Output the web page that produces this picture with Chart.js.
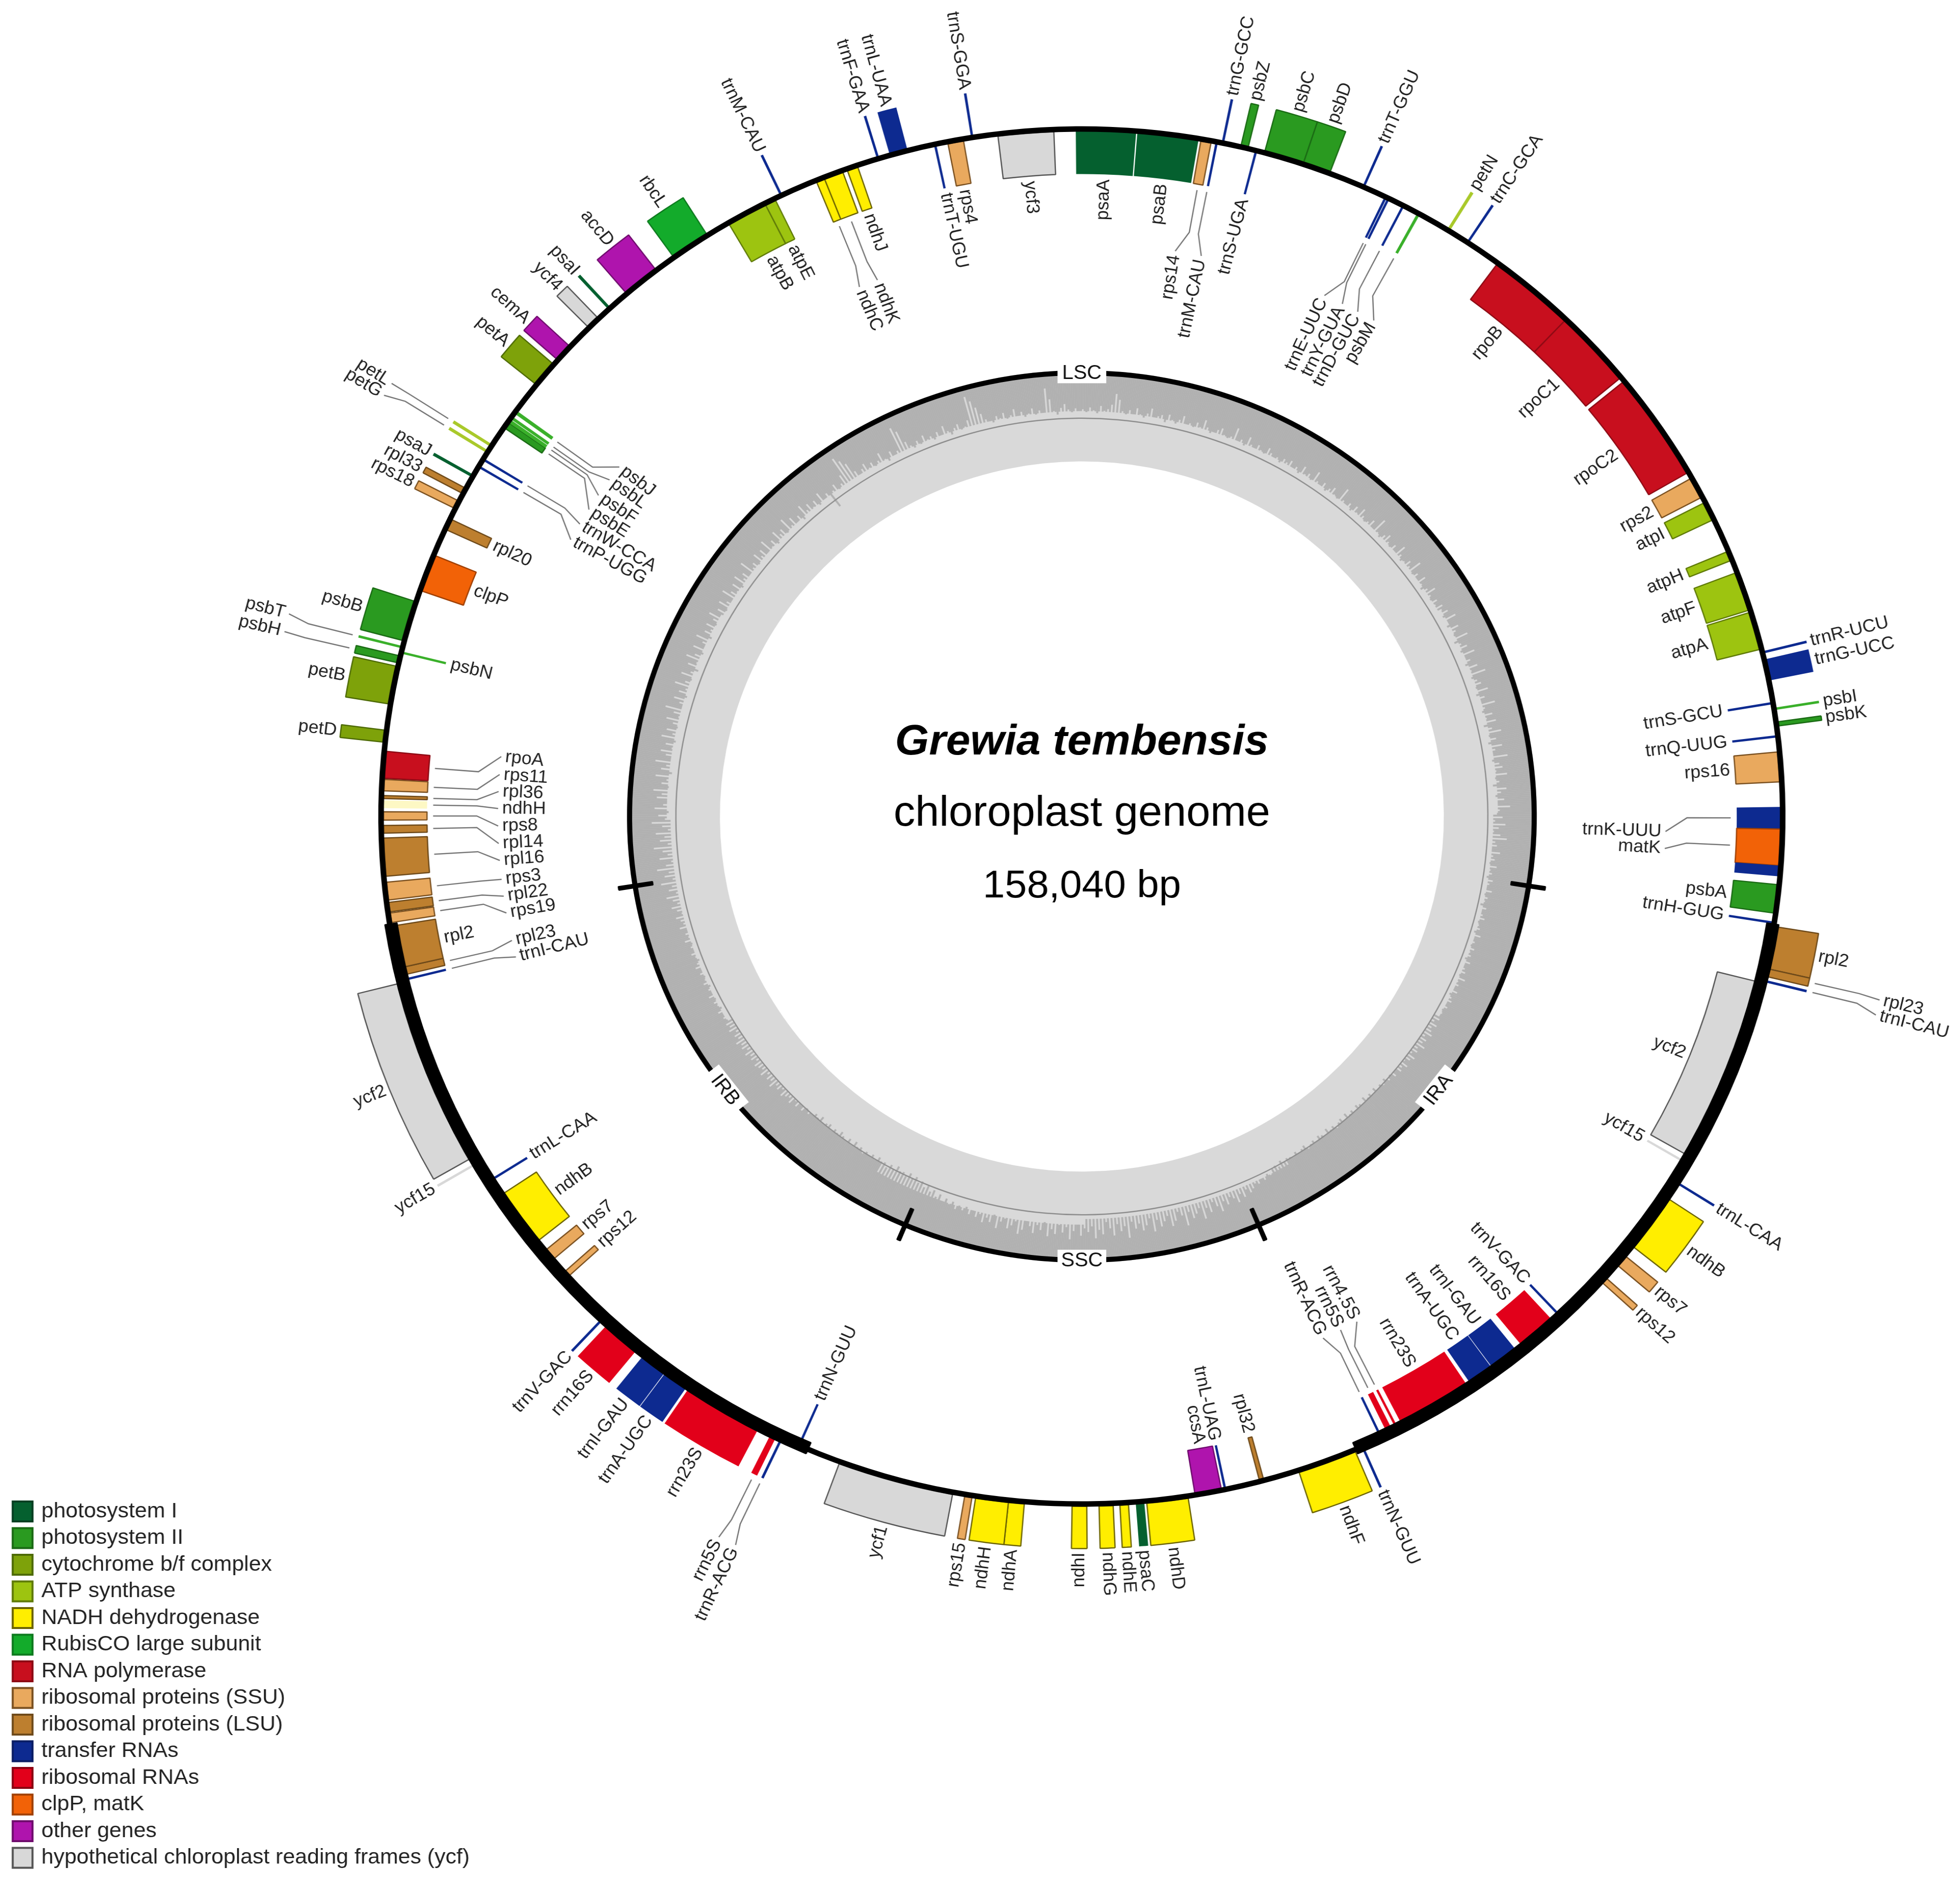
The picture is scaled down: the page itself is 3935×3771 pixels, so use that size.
<!DOCTYPE html>
<html>
<head>
<meta charset="utf-8">
<title>Grewia tembensis chloroplast genome</title>
<script src="https://cdn.jsdelivr.net/npm/chart.js@4/dist/chart.umd.min.js"></script>
<style>
    html, body { margin: 0; padding: 0; background: #fff; overflow: hidden; }
    /* the reference picture is a little wider than it is tall */
    #stage { width: 3861px; height: 3771px; transform: scaleX(1.0192); transform-origin: 0 0; }
</style>
</head>
<body>
<div id="stage"><canvas id="plastomeChart" width="3861" height="3771"></canvas></div>
<script>
// angles are degrees clockwise from the top of the map
// rows: [gene, start, end, group, angle of the label when it sits on a leader line]
const outerGenes = [
    ['trnG-GCC', 11.5, 11.7, 'trna'], ['psbZ', 13.1, 13.7, 'psII'], ['psbC', 15.1, 18.4, 'psII'],
    ['psbD', 18.4, 20.7, 'psII'], ['trnT-GGU', 23.6, 23.8, 'trna'], ['petN', 31.4, 31.65, 'thinAtp'],
    ['trnC-GCA', 33.3, 33.5, 'trna'], ['trnR-UCU', 76.1, 76.3, 'trna'], ['trnG-UCC', 76.8, 78.6, 'trna'],
    ['psbI', 80.9, 81.1, 'thinGreen'], ['psbK', 82.1, 82.45, 'psII'], ['rpl2', 99.2, 102.75, 'lsu'],
    ['rpl23', 102.75, 103.4, 'lsu', 103.2], ['trnI-CAU', 103.7, 103.9, 'trna', 104.3],
    ['trnL-CAA', 122, 122.2, 'trna'], ['ndhB', 123.6, 128.5, 'ndh'], ['rps7', 129.5, 130.5, 'ssu'],
    ['rps12', 131.9, 132.4, 'ssu'], ['trnN-GUU', 156.3, 156.5, 'trna'], ['ndhF', 157.1, 162, 'ndh'],
    ['ndhD', 171.3, 174.7, 'ndh'], ['psaC', 174.9, 175.6, 'psI'], ['ndhE', 176.2, 176.9, 'ndh'],
    ['ndhG', 177.45, 178.6, 'ndh'], ['ndhI', 179.6, 180.8, 'ndh'], ['ndhA', 184.7, 186, 'ndh'],
    ['ndhH', 186, 188.7, 'ndh'], ['rps15', 189, 189.6, 'ssu'], ['ycf1', 190.6, 200.2, 'ycf'],
    ['trnR-ACG', 205.25, 205.45, 'trna', 205], ['rrn5S', 205.8, 206.3, 'rrna', 206.3],
    ['rrn23S', 207.4, 214, 'rrna'], ['trnA-UGC', 214.2, 216.3, 'trna'], ['trnI-GAU', 216.35, 218.6, 'trna'],
    ['rrn16S', 219.3, 222.5, 'rrna'], ['trnV-GAC', 223, 223.2, 'trna'], ['ycf15', 239.6, 239.8, 'thinYcf'],
    ['ycf2', 240.3, 256, 'ycf'], ['petD', 276.2, 277.2, 'cyt'], ['petB', 279.4, 282.6, 'cyt'],
    ['psbH', 282.9, 283.5, 'psII', 283.3], ['psbT', 284.15, 284.35, 'thinGreen', 284.6], ['psbB', 284.8, 288.2, 'psII'],
    ['rps18', 296.6, 297.3, 'ssu'], ['rpl33', 298, 298.5, 'lsu'], ['psaJ', 299.55, 299.8, 'psI'],
    ['petG', 301.9, 302.15, 'thinAtp', 301.6], ['petL', 302.5, 302.75, 'thinAtp', 302.6],
    ['petA', 308.9, 311.1, 'cyt'], ['cemA', 311.6, 313.1, 'other'], ['ycf4', 315.3, 316.4, 'ycf'],
    ['psaI', 317.5, 317.75, 'psI'], ['accD', 319.5, 322.6, 'other'], ['rbcL', 324.4, 327.7, 'rubisco'],
    ['trnM-CAU', 334.5, 334.7, 'trna'], ['trnF-GAA', 343, 343.2, 'trna'], ['trnL-UAA', 344.1, 345.6, 'trna'],
    ['trnS-GGA', 350.9, 351.1, 'trna']
];
const innerGenes = [
    ['psaA', -0.5, 4.45, 'psI'], ['psaB', 4.55, 9.6, 'psI'], ['rps14', 9.8, 10.65, 'ssu', 9.2],
    ['trnM-CAU', 11, 11.2, 'trna', 11.8], ['trnS-UGA', 14.3, 14.5, 'trna'], ['trnE-UUC', 25.6, 25.8, 'trna', 24.55],
    ['trnY-GUA', 25.85, 26.05, 'trna', 26.5], ['trnD-GUC', 27.2, 27.4, 'trna', 28.2], ['psbM', 28.6, 28.85, 'thinGreen', 30],
    ['rpoB', 36.4, 43.7, 'rpo'], ['rpoC1', 43.7, 50.3, 'rpo'], ['rpoC2', 50.7, 59.95, 'rpo'],
    ['rps2', 60.5, 62.3, 'ssu'], ['atpI', 62.8, 64.4, 'atp'], ['atpH', 67.3, 68.1, 'atp'],
    ['atpF', 69.2, 72.5, 'atp'], ['atpA', 72.7, 75.9, 'atp'], ['trnS-GCU', 80.4, 80.6, 'trna'],
    ['trnQ-UUG', 83.2, 83.4, 'trna'], ['rps16', 84.6, 87.1, 'ssu'], ['trnK-UUU', 89.2, 91.05, 'trna', 91.5],
    ['matK', 91.05, 94.1, 'clp', 93.2], [null, 94.1, 95, 'trna'], ['psbA', 95.7, 98.1, 'psII'],
    ['trnH-GUG', 98.8, 99, 'trna'], ['ycf2', 104, 119.7, 'ycf'], ['ycf15', 120.2, 120.4, 'thinYcf'],
    ['trnV-GAC', 136.7, 136.9, 'trna'], ['rrn16S', 137.5, 140.8, 'rrna'], ['trnI-GAU', 141.4, 143.85, 'trna'],
    ['trnA-UGC', 143.9, 146.1, 'trna'], ['rrn23S', 146.4, 152.7, 'rrna'], ['rrn4.5S', 153.1, 153.3, 'rrna', 151.9],
    ['rrn5S', 153.6, 154.1, 'rrna', 153.7], ['trnR-ACG', 154.6, 154.8, 'trna', 155.6], ['rpl32', 164.95, 165.3, 'lsu'],
    ['trnL-UAG', 168.1, 168.3, 'trna'], ['ccsA', 168.5, 170.7, 'other'], ['trnN-GUU', 203.7, 203.9, 'trna'],
    ['rps12', 227.6, 228.1, 'ssu'], ['rps7', 229.5, 230.5, 'ssu'], ['ndhB', 231.5, 236.4, 'ndh'],
    ['trnL-CAA', 237.8, 238, 'trna'], ['trnI-CAU', 256.1, 256.3, 'trna', 255.8], ['rpl23', 256.6, 257.25, 'lsu', 257.5],
    ['rpl2', 257.25, 260.8, 'lsu'], ['rps19', 261.1, 261.9, 'ssu', 260.3], ['rpl22', 262, 262.8, 'lsu', 262],
    ['rps3', 263, 264.5, 'ssu', 263.7], ['rpl16', 265, 268.2, 'lsu', 265.6], ['rpl14', 268.6, 269.25, 'lsu', 267.3],
    ['rps8', 269.7, 270.4, 'ssu', 269.05], ['ndhH', 270.7, 271.35, 'paleNdh', 270.8], ['rpl36', 271.5, 271.75, 'lsu', 272.5],
    ['rps11', 272.15, 273.1, 'ssu', 274.2], ['rpoA', 273.2, 275.45, 'rpo', 276], ['psbN', 283.7, 283.9, 'thinGreen'],
    ['clpP', 289.2, 292.35, 'clp'], ['rpl20', 294.7, 295.65, 'lsu'], ['trnP-UGG', 300.5, 300.7, 'trna', 298.9],
    ['trnW-CCA', 301.2, 301.4, 'trna', 300.7], ['psbE', 304.45, 305, 'psII', 302.4], ['psbF', 305, 305.3, 'thinGreen', 304.1],
    ['psbL', 305.35, 305.6, 'thinGreen', 306], ['psbJ', 305.9, 306.2, 'thinGreen', 307.6], ['atpB', 329.7, 333.1, 'atp'],
    ['atpE', 333.1, 334, 'atp'], ['ndhC', 337.7, 338.4, 'ndh', 337.6], ['ndhK', 338.4, 340, 'ndh', 339.5],
    ['ndhJ', 340.4, 341.3, 'ndh'], ['trnT-UGU', 347.8, 348, 'trna'], ['rps4', 348.95, 350.25, 'ssu'],
    ['ycf3', 353.1, 357.7, 'ycf']
];
const repeatSpans = [[99, 157], [203, 261]];
const junctions = [99, 157, 203, 261];
const regionLabels = [['LSC', 0], ['IRA', 128], ['SSC', 180], ['IRB', 232]];
const titleLines = ['Grewia tembensis', 'chloroplast genome', '158,040 bp'];

// GC content in percent: the peaks, one value every half degree
const gcValues = [
    44,42,45,40,43,46,38,43,41,36,24,30,42,45,40,44,37,43,46,41,
    35,44,42,40,47,38,43,46,41,36,44,42,45,39,43,34,41,46,44,40,
    37,43,45,42,31,44,41,46,35,42,44,39,43,45,37,41,44,42,46,40,
    42,38,44,41,46,36,43,40,45,33,42,44,39,46,41,37,43,45,30,42,
    44,40,46,38,43,35,41,45,42,37,44,29,43,46,40,36,42,45,39,44,
    33,41,46,43,38,42,31,45,40,44,36,43,47,41,34,42,45,39,43,37,
    40,35,43,30,41,44,33,38,42,28,45,39,34,43,29,41,37,44,32,40,
    26,43,38,35,42,30,44,36,41,27,39,43,33,40,31,45,37,28,42,35,
    44,30,38,41,26,43,36,33,40,29,42,38,45,31,37,43,34,41,28,39,
    42,36,44,33,40,45,38,31,43,41,46,37,44,42,47,39,45,43,48,41,
    44,46,40,47,43,45,49,42,46,44,41,47,45,43,48,40,46,44,47,42,
    45,43,48,41,46,44,42,47,39,45,43,46,41,48,44,42,46,43,47,45,
    46,44,48,43,47,45,42,48,44,46,41,47,45,49,43,46,50,44,48,46,
    51,47,53,49,55,50,54,52,56,51,55,53,57,52,54,56,51,55,53,57,
    52,56,54,50,55,53,57,51,54,56,52,55,53,50,56,54,52,55,51,53,
    54,52,55,50,53,51,46,49,44,47,43,45,41,38,43,36,41,33,39,42,
    35,40,30,37,43,33,39,28,41,36,32,40,26,38,43,34,29,41,36,31,
    39,27,42,35,30,38,33,41,24,37,32,40,28,36,43,30,35,26,39,33,
    37,29,41,34,25,38,32,40,30,35,27,42,33,38,29,36,41,31,26,39,
    34,30,40,36,28,42,33,37,31,39,35,41,36,43,38,42,37,44,40,45,
    41,47,43,49,46,51,48,53,50,55,52,56,51,54,53,57,52,55,50,54,
    53,56,51,55,52,54,50,55,53,57,51,56,52,54,57,53,55,51,56,54,
    52,57,53,55,51,49,53,47,51,46,50,44,48,46,43,49,45,47,41,46,
    44,48,42,47,45,43,48,44,46,42,47,43,45,41,46,44,48,42,45,43,
    47,44,46,42,48,45,43,47,41,46,44,48,42,45,47,43,46,41,44,48,
    45,42,46,44,47,40,45,43,46,39,44,42,38,45,41,36,43,39,33,44,
    37,41,30,43,35,40,28,38,44,32,41,36,27,42,34,39,30,43,37,26,
    40,33,44,29,38,42,31,36,27,43,35,40,28,45,33,38,26,42,36,30,
    41,34,44,28,39,32,43,37,29,41,35,25,42,38,31,44,34,40,27,37,
    43,30,39,46,33,41,28,36,44,31,42,38,29,45,35,40,33,43,37,30,
    42,36,45,33,40,44,30,38,43,35,46,32,41,37,44,29,42,39,45,34,
    41,36,44,31,43,38,46,33,40,37,45,30,42,35,44,39,47,32,41,36,
    43,38,46,34,44,40,60,42,37,45,41,33,14,20,26,38,44,40,36,43,
    39,45,41,34,43,47,38,44,41,16,22,36,42,46,40,45,37,43,41,46,
    39,44,35,42,47,41,38,45,43,37,12,18,26,34,41,44,46,40,43,38,
    45,42,36,44,40,46,43,38,45,41,44,18,30,43,47,40,36,42,45,41
];
// level the peaks rise from, one value for every 30 degrees
const gcFloor = [44, 44, 41, 46, 52, 47, 41, 52, 46, 42, 44, 44];

const legendNames = ['photosystem I', 'photosystem II', 'cytochrome b/f complex', 'ATP synthase',
    'NADH dehydrogenase', 'RubisCO large subunit', 'RNA polymerase', 'ribosomal proteins (SSU)',
    'ribosomal proteins (LSU)', 'transfer RNAs', 'ribosomal RNAs', 'clpP, matK', 'other genes',
    'hypothetical chloroplast reading frames (ycf)'];
const legendGroups = ['psI', 'psII', 'cyt', 'atp', 'ndh', 'rubisco', 'rpo', 'ssu', 'lsu', 'trna', 'rrna', 'clp', 'other', 'ycf'];

const groupFill = {
    psI: '#05602f', psII: '#2a9a20', cyt: '#7ea20a', atp: '#9dc410', ndh: '#ffee00', rubisco: '#13ab2b',
    rpo: '#c80f1e', ssu: '#e9a95e', lsu: '#bd7f2f', trna: '#0d2a90', rrna: '#e2001a', clp: '#f26207',
    other: '#af14ad', ycf: '#d8d8d8', thinAtp: '#a9c92a', thinGreen: '#3ab02a', paleNdh: '#fdf8c4', thinYcf: '#d8d8d8'
};
const groupEdge = {
    psI: '#063f22', psII: '#1a6a14', cyt: '#4d6a05', atp: '#5f7a08', ndh: '#6b6300', rubisco: '#0d7a1e',
    rpo: '#8d0a14', ssu: '#7a5020', lsu: '#6e4a1a', trna: '#0a1d64', rrna: '#8a0010', clp: '#a04004',
    other: '#6f0c6d', ycf: '#555555'
};
const borderless = ['trna', 'rrna', 'psI', 'thinAtp', 'thinGreen', 'paleNdh', 'thinYcf'];

const startAngle = -0.5;
const radiusOut = 1470;      // tip of the genes outside the circle
const radiusIn = 1290;       // tip of the genes inside the circle
const centerX = 2131.1;
const centerY = 1639.5;

function buildRing(rows, ringOuter, ringInner) {
    const sorted = [...rows].sort((a, b) => a[1] - b[1]);
    const ring = { data: [], backgroundColor: [], borderColor: [], borderWidth: [], ringOuter, ringInner };
    const push = (span, fill, edge, width) => {
        ring.data.push(span);
        ring.backgroundColor.push(fill);
        ring.borderColor.push(edge);
        ring.borderWidth.push(width);
    };
    let cursor = startAngle;
    sorted.forEach(row => {
        if (row[1] > cursor) push(row[1] - cursor, 'rgba(0,0,0,0)', 'rgba(0,0,0,0)', 0);
        const group = row[3];
        const outlined = !borderless.includes(group);
        push(row[2] - row[1], groupFill[group] || group, groupEdge[group] || group, outlined ? 2.5 : 0);
        cursor = row[2];
    });
    if (cursor < startAngle + 360) push(startAngle + 360 - cursor, 'rgba(0,0,0,0)', 'rgba(0,0,0,0)', 0);
    return ring;
}

function solidRing(color, ringOuter, ringInner) {
    return { data: [1], backgroundColor: [color], borderWidth: [0], ringOuter, ringInner };
}

function gcRadius(gc) {
    return 896 - 1.86 * gc;
}

// peak and floor take turns, so the peaks stay as narrow as in the picture
function gcBinRadius(j) {
    const i = Math.floor(j / 2);
    return gcRadius(j % 2 === 0 ? gcValues[i] : gcFloor[Math.floor(i / 60)]);
}

function polar(chart, angle, radius) {
    const a = angle * Math.PI / 180;
    const area = chart.chartArea;
    return {
        x: (area.left + area.right) / 2 + radius * Math.sin(a),
        y: (area.top + area.bottom) / 2 - radius * Math.cos(a)
    };
}

// doughnut rings are normally stacked evenly, here each one gets its own radii
const ringPlugin = {
    id: 'ringRadii',
    afterDatasetsUpdate(chart) {
        chart.data.datasets.forEach((ds, i) => {
            chart.getDatasetMeta(i).data.forEach((arc, j) => {
                arc.outerRadius = ds.ringOuter;
                arc.innerRadius = ds.gcBins ? gcBinRadius(j) : ds.ringInner;
            });
        });
    }
};

function drawGeneLabels(chart, rows, outside) {
    const ctx = chart.ctx;
    rows.forEach(row => {
        if (!row[0]) return;
        const geneAngle = (row[1] + row[2]) / 2;
        const hasLeader = row[4] !== undefined;
        const labelAngle = hasLeader ? row[4] : geneAngle;
        let labelRadius = outside ? 1478 : 1280;
        if (hasLeader) {
            labelRadius = outside ? 1622 : 1142;
            const from = polar(chart, geneAngle, outside ? 1482 : 1278);
            const bend = polar(chart, geneAngle, outside ? 1572 : 1192);
            const to = polar(chart, labelAngle, outside ? 1614 : 1150);
            ctx.beginPath();
            ctx.moveTo(from.x, from.y);
            ctx.lineTo(bend.x, bend.y);
            ctx.lineTo(to.x, to.y);
            ctx.strokeStyle = '#777777';
            ctx.lineWidth = 2.5;
            ctx.stroke();
        }
        const rightHalf = labelAngle < 180;
        const p = polar(chart, labelAngle, labelRadius);
        ctx.save();
        ctx.translate(p.x, p.y);
        ctx.rotate((rightHalf ? labelAngle - 90 : labelAngle + 90) * Math.PI / 180);
        ctx.textAlign = rightHalf === outside ? 'left' : 'right';
        ctx.textBaseline = 'middle';
        ctx.font = '36px "Liberation Sans"';
        ctx.fillStyle = '#222222';
        ctx.fillText(row[0], 0, 0);
        ctx.restore();
    });
}

const labelPlugin = {
    id: 'mapLabels',
    afterDraw(chart) {
        const ctx = chart.ctx;
        drawGeneLabels(chart, outerGenes, true);
        drawGeneLabels(chart, innerGenes, false);

        // region names sit on the inner black circle
        regionLabels.forEach(([name, angle]) => {
            const p = polar(chart, angle, 891);
            ctx.save();
            ctx.translate(p.x, p.y);
            ctx.rotate((angle === 0 ? 0 : angle - 180) * Math.PI / 180);
            ctx.fillStyle = '#ffffff';
            ctx.fillRect(-48, -21, 96, 42);
            ctx.font = '40px "Liberation Sans"';
            ctx.textAlign = 'center';
            ctx.textBaseline = 'middle';
            ctx.fillStyle = '#111111';
            ctx.fillText(name, 0, 1);
            ctx.restore();
        });

        // title in the middle of the circle
        const area = chart.chartArea;
        const midX = (area.left + area.right) / 2;
        ctx.textAlign = 'center';
        ctx.textBaseline = 'middle';
        ctx.fillStyle = '#000000';
        ctx.font = 'italic bold 86px "Liberation Sans"';
        ctx.fillText(titleLines[0], midX, 1491);
        ctx.font = '85px "Liberation Sans"';
        ctx.fillText(titleLines[1], midX, 1635);
        ctx.font = '78px "Liberation Sans"';
        ctx.fillText(titleLines[2], midX, 1780);

        // legend, bottom left
        legendNames.forEach((name, i) => {
            const y = 3035 + i * 53.5;
            const group = legendGroups[i];
            ctx.fillStyle = groupFill[group];
            ctx.strokeStyle = groupEdge[group];
            ctx.lineWidth = 4;
            ctx.fillRect(25, y - 20, 39, 40);
            ctx.strokeRect(25, y - 20, 39, 40);
            ctx.textAlign = 'left';
            ctx.textBaseline = 'middle';
            ctx.font = '43px "Liberation Sans"';
            ctx.fillStyle = '#222222';
            ctx.fillText(name, 81.5, y);
        });
    }
};

new Chart(document.getElementById('plastomeChart'), {
    type: 'doughnut',
    data: {
        // first dataset is painted last, so the order runs from top layer to bottom layer
        datasets: [
            buildRing(repeatSpans.map(s => [null, s[0], s[1], '#000000']), 1390, 1366),
            solidRing('#000000', 1386, 1375),
            buildRing(outerGenes, radiusOut, 1385),
            buildRing(innerGenes, 1376, radiusIn),
            buildRing(junctions.map(a => [null, a - 0.22, a + 0.22, '#000000']), 924, 856),
            solidRing('#000000', 896, 886),
            solidRing('#8e8e8e', 801, 798.5),
            {
                data: gcValues.flatMap(() => [1, 1]),
                backgroundColor: '#b1b1b1',
                borderColor: '#b1b1b1',
                borderWidth: 0.3,
                ringOuter: 896,
                gcBins: true
            },
            solidRing('#d9d9d9', 896, 713)
        ]
    },
    options: {
        responsive: false,
        devicePixelRatio: 1,
        animation: false,
        events: [],
        rotation: startAngle,
        layout: {
            padding: {
                left: centerX - radiusOut,
                top: centerY - radiusOut,
                right: 3861 - centerX - radiusOut,
                bottom: 3771 - centerY - radiusOut
            }
        },
        plugins: {
            legend: { display: false },
            tooltip: { enabled: false }
        }
    },
    plugins: [ringPlugin, labelPlugin]
});
</script>
</body>
</html>
